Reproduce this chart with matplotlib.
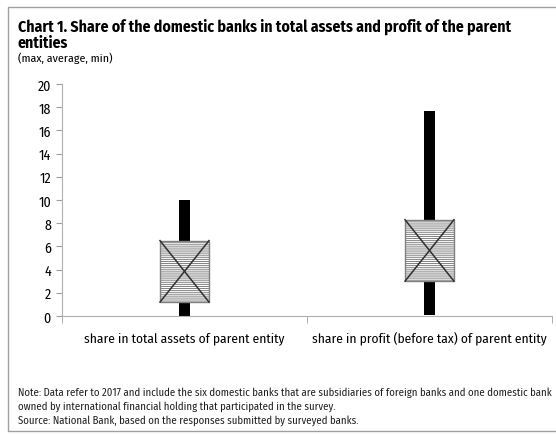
import matplotlib
matplotlib.use("Agg")
import matplotlib.pyplot as plt
import matplotlib.patches as mpatches

categories = ["share in total assets of parent entity",
              "share in profit (before tax) of parent entity"]
max_vals = [10.0, 17.7]
min_vals = [0.0, 0.1]
box_top = [6.5, 8.3]
box_bottom = [1.2, 3.0]
yticks = [0, 2, 4, 6, 8, 10, 12, 14, 16, 18, 20]

plt.rcParams['font.family'] = ["Fira Sans Condensed", "DejaVu Sans"]
plt.rcParams['hatch.linewidth'] = 0.7

W, H = 556, 435
fig = plt.figure(figsize=(W/100, H/100), dpi=100)

# frame
fig.add_artist(mpatches.Rectangle((8/W, 1-432/H), 560/W, (432-8)/H,
               transform=fig.transFigure, fill=False, edgecolor="#a0a0a0", lw=1))

ax = fig.add_axes([62/W, 1-317/H, (552-62)/W, (317-85)/H])
x = list(range(len(categories)))
hl = [t - b for t, b in zip(max_vals, min_vals)]
ax.bar(x, hl, bottom=min_vals, width=0.042, color="black", zorder=2)
bh = [t - b for t, b in zip(box_top, box_bottom)]
bw = 0.2
ax.bar(x, bh, bottom=box_bottom, width=bw, facecolor="white",
       edgecolor="#808080", hatch="--------", lw=1.0, zorder=3)
for xi, t, b in zip(x, box_top, box_bottom):
    ax.plot([xi - bw/2, xi + bw/2], [b, t], color="#303030", lw=1.1, zorder=4)
    ax.plot([xi - bw/2, xi + bw/2], [t, b], color="#303030", lw=1.1, zorder=4)

ax.set_xlim(-0.5, 1.5)
ax.set_ylim(0, 20)
ax.set_yticks(yticks)
ax.set_yticklabels([str(v) for v in yticks], fontsize=10)
ax.set_xticks(x)
ax.set_xticklabels(categories, fontsize=9.6)
ax.set_xticks([-0.5, 0.5, 1.5], minor=True)
ax.tick_params(axis='x', which='major', length=0, pad=11)
ax.tick_params(axis='x', which='minor', length=5, color="#a0a0a0", direction='out')
ax.tick_params(axis='y', length=4, color="#a0a0a0", pad=4)
for s in ["top", "right"]:
    ax.spines[s].set_visible(False)
for s in ["left", "bottom"]:
    ax.spines[s].set_color("#b0b0b0")

fig.text(18/W, 1-32/H, "Chart 1. Share of the domestic banks in total assets and profit of the parent",
         fontsize=11.3, fontweight="bold", ha="left", va="baseline")
fig.text(18/W, 1-48/H, "entities", fontsize=11.3, fontweight="bold", ha="left", va="baseline")
fig.text(18/W, 1-62/H, "(max, average, min)", fontsize=8.5, ha="left", va="baseline")

notes = ["Note: Data refer to 2017 and include the six domestic banks that are subsidiaries of foreign banks and one domestic bank",
         "owned by international financial holding that participated in the survey.",
         "Source: National Bank, based on the responses submitted by surveyed banks."]
for i, n in enumerate(notes):
    fig.text(18/W, 1-(396 + i*14)/H, n, fontsize=7.7, ha="left", va="baseline", color="#202020")

fig.savefig("out.png", dpi=100)
